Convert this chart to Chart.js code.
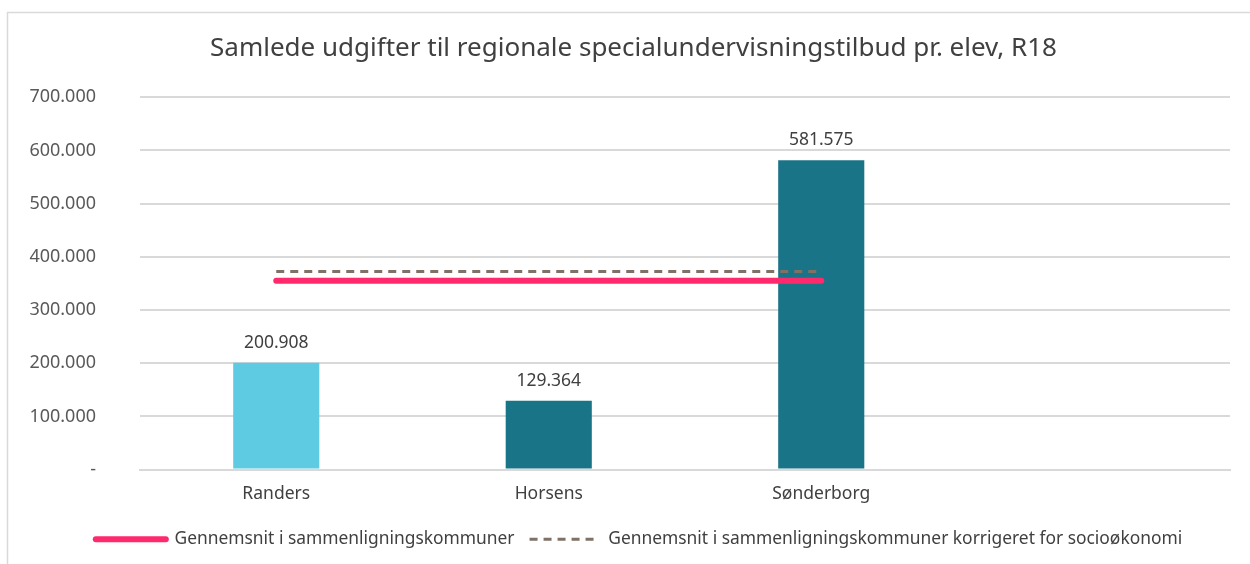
<!DOCTYPE html><html lang="da">
<head>
  <meta charset="UTF-8" />
  <title>Samlede udgifter til regionale specialundervisningstilbud pr. elev, R18</title>
  <style>
    html, body { margin:0; padding:0; background:#fff; }
    #wrap { position:relative; width:1250px; height:564px; }
  </style>
  <script src="https://cdn.jsdelivr.net/npm/chart.js"></script>
</head>
<body>
<div id="wrap"><canvas id="chart"></canvas></div>
<script>
  // data
  const categories = ['Randers', 'Horsens', 'Sønderborg', ''];
  const udgifter = [200908, 129364, 581575, null];
  const gennemsnit = [355100, 355100, 355100, null];
  const gennemsnitKorr = [372600, 372600, 372600, null];
  const barColors = ['#5ECBE3', '#1A7487', '#1A7487', '#1A7487'];
  const yTicks = [0, 100000, 200000, 300000, 400000, 500000, 600000, 700000];
  const titleText = 'Samlede udgifter til regionale specialundervisningstilbud pr. elev, R18';
  const font = '"Noto Sans", sans-serif';

  function fmt(v){ if(!v) return '-'; return String(Math.round(v)).replace(/\B(?=(\d{3})+(?!\d))/g, '.'); }

  const frame = { id:'frame', beforeDraw(c){ const x=c.ctx; x.save(); x.strokeStyle='#d9d9d9'; x.lineWidth=1.5;
    x.beginPath(); x.moveTo(7.5, c.height); x.lineTo(7.5, 12.5); x.lineTo(c.width, 12.5); x.stroke(); x.restore(); } };

  // nudge title and legend so they sit centred like the original
  const nudge = { id:'nudge', afterLayout(c){
    if(c.titleBlock){ c.titleBlock.left += 23; }
    if(c.legend){ c.legend.left += 17; c.legend.right += 17; }
  } };

  const valueLabels = { id:'valueLabels', afterDatasetsDraw(c){
    const meta=c.getDatasetMeta(2), x=c.ctx; x.save(); x.font='17.5px '+font; x.fillStyle='#404040'; x.textAlign='center'; x.textBaseline='alphabetic';
    meta.data.forEach((b,i)=>{ if(udgifter[i]==null) return; x.fillText(fmt(udgifter[i]), b.x, b.y-15); });
    x.restore(); } };

  new Chart(document.getElementById('chart'), {
    data:{ labels:categories, datasets:[
      { type:'line', label:'Gennemsnit i sammenligningskommuner', data:gennemsnit, borderColor:'#FF2A6D', backgroundColor:'#FF2A6D',
        borderWidth:6, borderCapStyle:'round', pointRadius:0, order:0 },
      { type:'line', label:'Gennemsnit i sammenligningskommuner korrigeret for socioøkonomi', data:gennemsnitKorr, borderColor:'#7F7166', backgroundColor:'#7F7166',
        borderWidth:3, borderDash:[8,6], pointRadius:0, order:1 },
      { type:'bar', label:'Udgifter', data:udgifter, backgroundColor:barColors, categoryPercentage:1, barPercentage:0.316, order:2 }
    ]},
    options:{ responsive:true, maintainAspectRatio:false, animation:false,
      layout:{ padding:{ left:14, right:20, top:33, bottom:6 } },
      plugins:{
        title:{ display:true, text:titleText, color:'#404040', font:{ family:font, size:26, weight:'normal' }, padding:{ top:0, bottom:33 } },
        legend:{ position:'bottom', labels:{ usePointStyle:true, pointStyleWidth:70, boxHeight:6,
          color:'#404040', font:{ family:font, size:17.4 }, padding:15,
          generateLabels:(c)=>c.data.datasets.slice(0,2).map((d,i)=>({ text:d.label, fillStyle:d.borderColor, strokeStyle:d.borderColor,
            lineWidth:d.borderWidth, lineDash:d.borderDash||[], lineCap:i===0?'round':'butt', pointStyle:'line', datasetIndex:i, hidden:false, fontColor:'#404040' })) } },
        tooltip:{ enabled:false }
      },
      scales:{
        x:{ grid:{ display:false, drawTicks:false }, border:{ color:'#d9d9d9', width:2 },
          ticks:{ color:'#404040', font:{ family:font, size:17.5 }, padding:14 }, afterFit:(s)=>{ s.height=46; } },
        y:{ min:0, max:700000, afterBuildTicks:(s)=>{ s.ticks=yTicks.map(v=>({value:v})); }, afterFit:(s)=>{ s.width=126; },
          grid:{ color:'#d9d9d9', lineWidth:2, drawTicks:false }, border:{ display:false },
          ticks:{ color:'#595959', font:{ family:font, size:18 }, padding:44, callback:(v)=>fmt(v) } }
      }
    },
    plugins:[frame, nudge, valueLabels]
  });
</script>
</body>
</html>
